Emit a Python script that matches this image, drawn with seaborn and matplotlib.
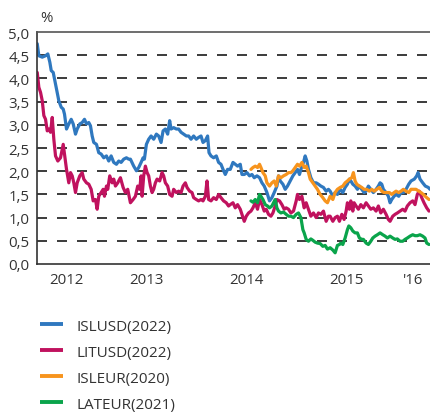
import matplotlib
matplotlib.use("Agg")
import matplotlib.pyplot as plt
import seaborn as sns
import pandas as pd
from matplotlib.lines import Line2D

# ---------------- data (time as fractional year, yield in %) ----------------
islusd_t = [2012.407, 2012.423, 2012.457, 2012.490, 2012.513, 2012.533, 2012.547, 2012.567, 2012.580, 2012.600,
            2012.623, 2012.647, 2012.667, 2012.680, 2012.700, 2012.723, 2012.747, 2012.767, 2012.790, 2012.807,
            2012.833, 2012.857, 2012.880, 2012.900, 2012.923, 2012.940, 2012.957, 2012.973, 2013.000, 2013.023,
            2013.047, 2013.073, 2013.100, 2013.123, 2013.147, 2013.173, 2013.200, 2013.223, 2013.247, 2013.273,
            2013.300, 2013.323, 2013.340, 2013.373, 2013.400, 2013.423, 2013.447, 2013.467, 2013.480, 2013.500,
            2013.523, 2013.547, 2013.573, 2013.600, 2013.623, 2013.647, 2013.667, 2013.690, 2013.713, 2013.733,
            2013.747, 2013.773, 2013.800, 2013.823, 2013.847, 2013.873, 2013.900, 2013.923, 2013.947, 2013.973,
            2014.000, 2014.023, 2014.047, 2014.067, 2014.090, 2014.113, 2014.127, 2014.147, 2014.173, 2014.200,
            2014.223, 2014.247, 2014.273, 2014.290, 2014.313, 2014.340, 2014.367, 2014.390, 2014.413, 2014.440,
            2014.457, 2014.480, 2014.507, 2014.533, 2014.557, 2014.580, 2014.607, 2014.633, 2014.657, 2014.680,
            2014.707, 2014.733, 2014.757, 2014.780, 2014.807, 2014.823, 2014.840, 2014.867, 2014.890, 2014.913,
            2014.940, 2014.967, 2014.990, 2015.013, 2015.033, 2015.057, 2015.073, 2015.090, 2015.107, 2015.123,
            2015.147, 2015.173, 2015.200, 2015.223, 2015.247, 2015.273, 2015.300, 2015.323, 2015.340, 2015.367,
            2015.390, 2015.413, 2015.440, 2015.467, 2015.490, 2015.513, 2015.533, 2015.547, 2015.567, 2015.590,
            2015.613, 2015.633, 2015.657, 2015.680, 2015.700, 2015.723, 2015.747, 2015.773, 2015.800, 2015.823,
            2015.840, 2015.857, 2015.873, 2015.900, 2015.923, 2015.940, 2015.957, 2015.980, 2016.000, 2016.027,
            2016.050, 2016.073, 2016.100, 2016.127, 2016.150, 2016.183, 2016.207, 2016.220, 2016.240, 2016.267,
            2016.293, 2016.323, 2016.340]
islusd_v = [4.75, 4.49, 4.46, 4.49, 4.53, 4.35, 4.17, 4.13, 3.99, 3.77,
            3.52, 3.38, 3.34, 3.23, 2.91, 3.02, 3.12, 3.02, 2.80, 2.91,
            3.02, 3.05, 3.12, 3.02, 3.05, 2.98, 2.76, 2.62, 2.58, 2.40,
            2.37, 2.29, 2.33, 2.22, 2.33, 2.19, 2.15, 2.22, 2.19, 2.26,
            2.29, 2.26, 2.26, 2.11, 2.01, 2.08, 2.19, 2.29, 2.26, 2.58,
            2.69, 2.76, 2.69, 2.80, 2.76, 2.62, 2.87, 2.91, 2.80, 3.09,
            2.91, 2.94, 2.91, 2.91, 2.84, 2.80, 2.76, 2.76, 2.69, 2.76,
            2.69, 2.73, 2.76, 2.62, 2.66, 2.76, 2.40, 2.33, 2.29, 2.33,
            2.19, 2.15, 2.01, 1.93, 2.04, 2.04, 2.19, 2.15, 2.11, 2.15,
            1.93, 1.93, 1.97, 1.90, 1.93, 1.86, 1.90, 1.86, 1.75, 1.68,
            1.54, 1.36, 1.43, 1.54, 1.68, 1.90, 1.79, 1.72, 1.61, 1.68,
            1.79, 1.90, 1.97, 2.04, 1.93, 2.11, 2.19, 2.33, 2.22, 2.04,
            1.86, 1.75, 1.75, 1.72, 1.68, 1.65, 1.57, 1.61, 1.57, 1.46,
            1.54, 1.50, 1.61, 1.54, 1.65, 1.72, 1.83, 1.79, 1.72, 1.68,
            1.61, 1.68, 1.61, 1.54, 1.57, 1.68, 1.61, 1.54, 1.61, 1.68,
            1.75, 1.72, 1.61, 1.54, 1.46, 1.32, 1.39, 1.46, 1.50, 1.46,
            1.54, 1.54, 1.61, 1.72, 1.79, 1.83, 1.90, 1.97, 1.83, 1.75,
            1.68, 1.65, 1.61]

litusd_t = [2012.407, 2012.423, 2012.440, 2012.457, 2012.473, 2012.490, 2012.507, 2012.523, 2012.540, 2012.557,
            2012.573, 2012.590, 2012.613, 2012.640, 2012.667, 2012.680, 2012.700, 2012.723, 2012.740, 2012.757,
            2012.773, 2012.790, 2012.807, 2012.833, 2012.857, 2012.873, 2012.900, 2012.923, 2012.947, 2012.967,
            2012.990, 2013.007, 2013.023, 2013.047, 2013.067, 2013.080, 2013.100, 2013.113, 2013.133, 2013.157,
            2013.173, 2013.190, 2013.213, 2013.240, 2013.267, 2013.290, 2013.313, 2013.340, 2013.367, 2013.390,
            2013.413, 2013.433, 2013.447, 2013.457, 2013.473, 2013.490, 2013.507, 2013.523, 2013.540, 2013.557,
            2013.573, 2013.590, 2013.607, 2013.633, 2013.657, 2013.673, 2013.690, 2013.713, 2013.733, 2013.757,
            2013.773, 2013.800, 2013.823, 2013.847, 2013.867, 2013.890, 2013.907, 2013.933, 2013.957, 2013.973,
            2014.000, 2014.023, 2014.047, 2014.067, 2014.090, 2014.107, 2014.123, 2014.147, 2014.173, 2014.200,
            2014.223, 2014.247, 2014.273, 2014.300, 2014.323, 2014.340, 2014.367, 2014.390, 2014.413, 2014.440,
            2014.467, 2014.480, 2014.500, 2014.523, 2014.547, 2014.567, 2014.590, 2014.613, 2014.633, 2014.657,
            2014.680, 2014.700, 2014.723, 2014.747, 2014.767, 2014.790, 2014.807, 2014.833, 2014.857, 2014.880,
            2014.900, 2014.923, 2014.947, 2014.973, 2015.000, 2015.013, 2015.033, 2015.057, 2015.080, 2015.100,
            2015.123, 2015.147, 2015.173, 2015.200, 2015.223, 2015.247, 2015.273, 2015.300, 2015.323, 2015.340,
            2015.367, 2015.390, 2015.413, 2015.433, 2015.457, 2015.480, 2015.500, 2015.513, 2015.533, 2015.547,
            2015.567, 2015.580, 2015.600, 2015.623, 2015.647, 2015.673, 2015.700, 2015.723, 2015.747, 2015.773,
            2015.800, 2015.823, 2015.847, 2015.873, 2015.900, 2015.923, 2015.940, 2015.967, 2015.990, 2016.013,
            2016.040, 2016.067, 2016.090, 2016.113, 2016.140, 2016.167, 2016.190, 2016.213, 2016.233, 2016.257,
            2016.280, 2016.307, 2016.330]
litusd_v = [4.13, 3.81, 3.70, 3.52, 3.20, 3.12, 2.87, 2.91, 2.84, 3.16,
            2.69, 2.33, 2.22, 2.29, 2.58, 2.37, 2.04, 1.75, 1.97, 1.90,
            1.75, 1.54, 1.75, 1.90, 1.97, 1.83, 1.75, 1.72, 1.61, 1.36,
            1.39, 1.18, 1.46, 1.54, 1.61, 1.46, 1.68, 1.61, 1.90, 1.75,
            1.83, 1.68, 1.75, 1.86, 1.65, 1.54, 1.61, 1.32, 1.39, 1.46,
            1.68, 1.61, 1.90, 1.46, 1.90, 2.11, 1.97, 1.90, 1.68, 1.54,
            1.61, 1.75, 1.83, 1.79, 1.97, 1.90, 1.75, 1.68, 1.50, 1.46,
            1.61, 1.54, 1.57, 1.54, 1.68, 1.75, 1.65, 1.57, 1.54, 1.43,
            1.39, 1.36, 1.39, 1.36, 1.46, 1.79, 1.39, 1.36, 1.43, 1.39,
            1.50, 1.43, 1.36, 1.32, 1.25, 1.28, 1.32, 1.21, 1.28, 1.18,
            1.00, 0.92, 1.03, 1.10, 1.14, 1.21, 1.32, 1.18, 1.39, 1.28,
            1.14, 1.18, 1.07, 1.03, 1.10, 1.25, 1.39, 1.36, 1.28, 1.18,
            1.21, 1.18, 1.10, 1.14, 1.36, 1.50, 1.39, 1.46, 1.21, 1.32,
            1.18, 1.03, 1.10, 1.00, 1.10, 1.07, 1.14, 0.92, 1.03, 1.03,
            0.92, 1.00, 1.03, 0.92, 1.07, 0.96, 1.14, 1.32, 1.18, 1.36,
            1.14, 1.32, 1.25, 1.18, 1.28, 1.21, 1.32, 1.25, 1.18, 1.21,
            1.14, 1.25, 1.10, 1.18, 1.07, 0.96, 0.92, 1.03, 1.07, 1.10,
            1.14, 1.18, 1.14, 1.25, 1.32, 1.36, 1.28, 1.50, 1.57, 1.43,
            1.32, 1.21, 1.14]

isleur_t = [2014.547, 2014.567, 2014.590, 2014.613, 2014.633, 2014.647, 2014.667, 2014.690, 2014.707, 2014.733,
            2014.757, 2014.780, 2014.800, 2014.823, 2014.847, 2014.873, 2014.900, 2014.923, 2014.947, 2014.967,
            2014.990, 2015.013, 2015.033, 2015.057, 2015.080, 2015.100, 2015.123, 2015.140, 2015.167, 2015.190,
            2015.213, 2015.240, 2015.267, 2015.290, 2015.313, 2015.340, 2015.367, 2015.390, 2015.413, 2015.440,
            2015.467, 2015.490, 2015.513, 2015.533, 2015.557, 2015.573, 2015.590, 2015.607, 2015.633, 2015.657,
            2015.680, 2015.707, 2015.733, 2015.757, 2015.780, 2015.807, 2015.833, 2015.857, 2015.880, 2015.907,
            2015.933, 2015.957, 2015.980, 2016.000, 2016.027, 2016.050, 2016.073, 2016.100, 2016.127, 2016.150,
            2016.173, 2016.200, 2016.227, 2016.250, 2016.273, 2016.307, 2016.330]
isleur_v = [2.04, 2.08, 2.11, 2.08, 2.15, 2.08, 1.97, 1.90, 1.75, 1.68,
            1.75, 1.79, 1.68, 1.90, 1.86, 1.90, 1.93, 1.97, 1.97, 2.01,
            2.08, 2.15, 2.11, 2.19, 2.08, 2.11, 1.97, 1.83, 1.75, 1.68,
            1.61, 1.50, 1.43, 1.36, 1.32, 1.46, 1.39, 1.54, 1.61, 1.65,
            1.68, 1.75, 1.79, 1.83, 1.86, 1.97, 1.79, 1.72, 1.68, 1.65,
            1.61, 1.61, 1.57, 1.61, 1.57, 1.61, 1.65, 1.57, 1.54, 1.54,
            1.54, 1.50, 1.54, 1.57, 1.54, 1.57, 1.61, 1.57, 1.54, 1.61,
            1.61, 1.61, 1.57, 1.54, 1.50, 1.43, 1.39]

lateur_t = [2014.547, 2014.567, 2014.590, 2014.613, 2014.633, 2014.647, 2014.667, 2014.690, 2014.713, 2014.733,
            2014.757, 2014.773, 2014.790, 2014.807, 2014.823, 2014.847, 2014.873, 2014.900, 2014.923, 2014.947,
            2014.973, 2015.000, 2015.023, 2015.047, 2015.067, 2015.080, 2015.100, 2015.123, 2015.147, 2015.167,
            2015.190, 2015.213, 2015.240, 2015.267, 2015.290, 2015.313, 2015.340, 2015.367, 2015.390, 2015.413,
            2015.433, 2015.447, 2015.467, 2015.490, 2015.513, 2015.527, 2015.547, 2015.567, 2015.590, 2015.613,
            2015.633, 2015.657, 2015.673, 2015.700, 2015.723, 2015.747, 2015.767, 2015.790, 2015.813, 2015.840,
            2015.867, 2015.890, 2015.913, 2015.940, 2015.967, 2015.990, 2016.013, 2016.040, 2016.067, 2016.090,
            2016.113, 2016.140, 2016.167, 2016.190, 2016.213, 2016.240, 2016.267, 2016.290, 2016.307, 2016.330]
lateur_v = [1.36, 1.33, 1.39, 1.32, 1.50, 1.46, 1.39, 1.28, 1.25, 1.21,
            1.25, 1.32, 1.39, 1.21, 1.14, 1.10, 1.12, 1.07, 1.03, 1.03,
            1.00, 1.07, 1.10, 1.00, 0.74, 0.67, 0.53, 0.49, 0.54, 0.51,
            0.47, 0.45, 0.44, 0.38, 0.40, 0.32, 0.35, 0.30, 0.24, 0.40,
            0.42, 0.45, 0.42, 0.56, 0.74, 0.82, 0.78, 0.71, 0.67, 0.67,
            0.56, 0.53, 0.53, 0.45, 0.42, 0.49, 0.56, 0.60, 0.63, 0.67,
            0.63, 0.60, 0.56, 0.60, 0.56, 0.53, 0.54, 0.49, 0.49, 0.53,
            0.56, 0.60, 0.63, 0.61, 0.61, 0.63, 0.60, 0.56, 0.45, 0.42]

series_names = ["ISLUSD(2022)", "LITUSD(2022)", "ISLEUR(2020)", "LATEUR(2021)"]
year_ticks = [2013, 2014, 2015, 2016]
year_label_pos = [2012.70, 2013.5, 2014.5, 2015.5, 2016.17]
year_labels = ["2012", "2013", "2014", "2015", "'16"]
y_ticks = [0.0, 0.5, 1.0, 1.5, 2.0, 2.5, 3.0, 3.5, 4.0, 4.5, 5.0]

colors = ["#2f78bf", "#c0125e", "#f7941d", "#0aa44b"]

frames = []
for name, t, v in zip(series_names,
                      [islusd_t, litusd_t, isleur_t, lateur_t],
                      [islusd_v, litusd_v, isleur_v, lateur_v]):
    frames.append(pd.DataFrame({"t": t, "v": v, "series": name}))
df = pd.concat(frames, ignore_index=True)

# ---------------- figure ----------------
sns.set_style("white")
plt.rcParams["font.family"] = ["Open Sans", "DejaVu Sans"]
text_color = "#333333"

fig = plt.figure(figsize=(4.30, 4.14), dpi=100)
ax = fig.add_axes([0.085, 0.36, 0.915, 0.56])

# dashed grid
for yv in y_ticks[1:-1]:
    ax.axhline(yv, color="#1a1a1a", lw=1.2, ls=(0, (6, 6)), zorder=0)

sns.lineplot(data=df, x="t", y="v", hue="series", hue_order=series_names,
             palette=colors, estimator=None, sort=False, lw=2.3, ax=ax, legend=False)

ax.set_xlim(2012.40, 2016.34)
ax.set_ylim(0, 5)
ax.set_xlabel("")
ax.set_ylabel("")

ax.set_yticks(y_ticks)
ax.set_yticklabels([f"{y:.1f}".replace(".", ",") for y in y_ticks],
                   fontsize=10.8, color=text_color)
ax.tick_params(axis="y", length=0, pad=5)

ax.set_xticks(year_ticks)
ax.set_xticklabels([])
ax.tick_params(axis="x", which="major", length=6, width=1.2, color="#666666", direction="out")
ax.set_xticks(year_label_pos, minor=True)
ax.set_xticklabels(year_labels, minor=True, fontsize=10.8, color=text_color)
ax.tick_params(axis="x", which="minor", length=0, pad=6)

for side in ["left", "bottom", "top"]:
    ax.spines[side].set_visible(True)
    ax.spines[side].set_color("#333333")
    ax.spines[side].set_linewidth(1.2)
ax.spines["top"].set_color("#555555")
ax.spines["right"].set_visible(False)

ax.text(0.01, 1.03, "%", transform=ax.transAxes, fontsize=10.8,
        color=text_color, ha="left", va="bottom")

handles = [Line2D([0], [0], color=c, lw=2.8, solid_capstyle="butt") for c in colors]
fig.legend(handles, series_names, loc="upper left", bbox_to_anchor=(0.094, 0.228),
           frameon=False, fontsize=11, handlelength=1.5, handletextpad=0.85,
           labelspacing=0.72, borderpad=0, borderaxespad=0, labelcolor=text_color)

fig.savefig("out.png", dpi=100)
